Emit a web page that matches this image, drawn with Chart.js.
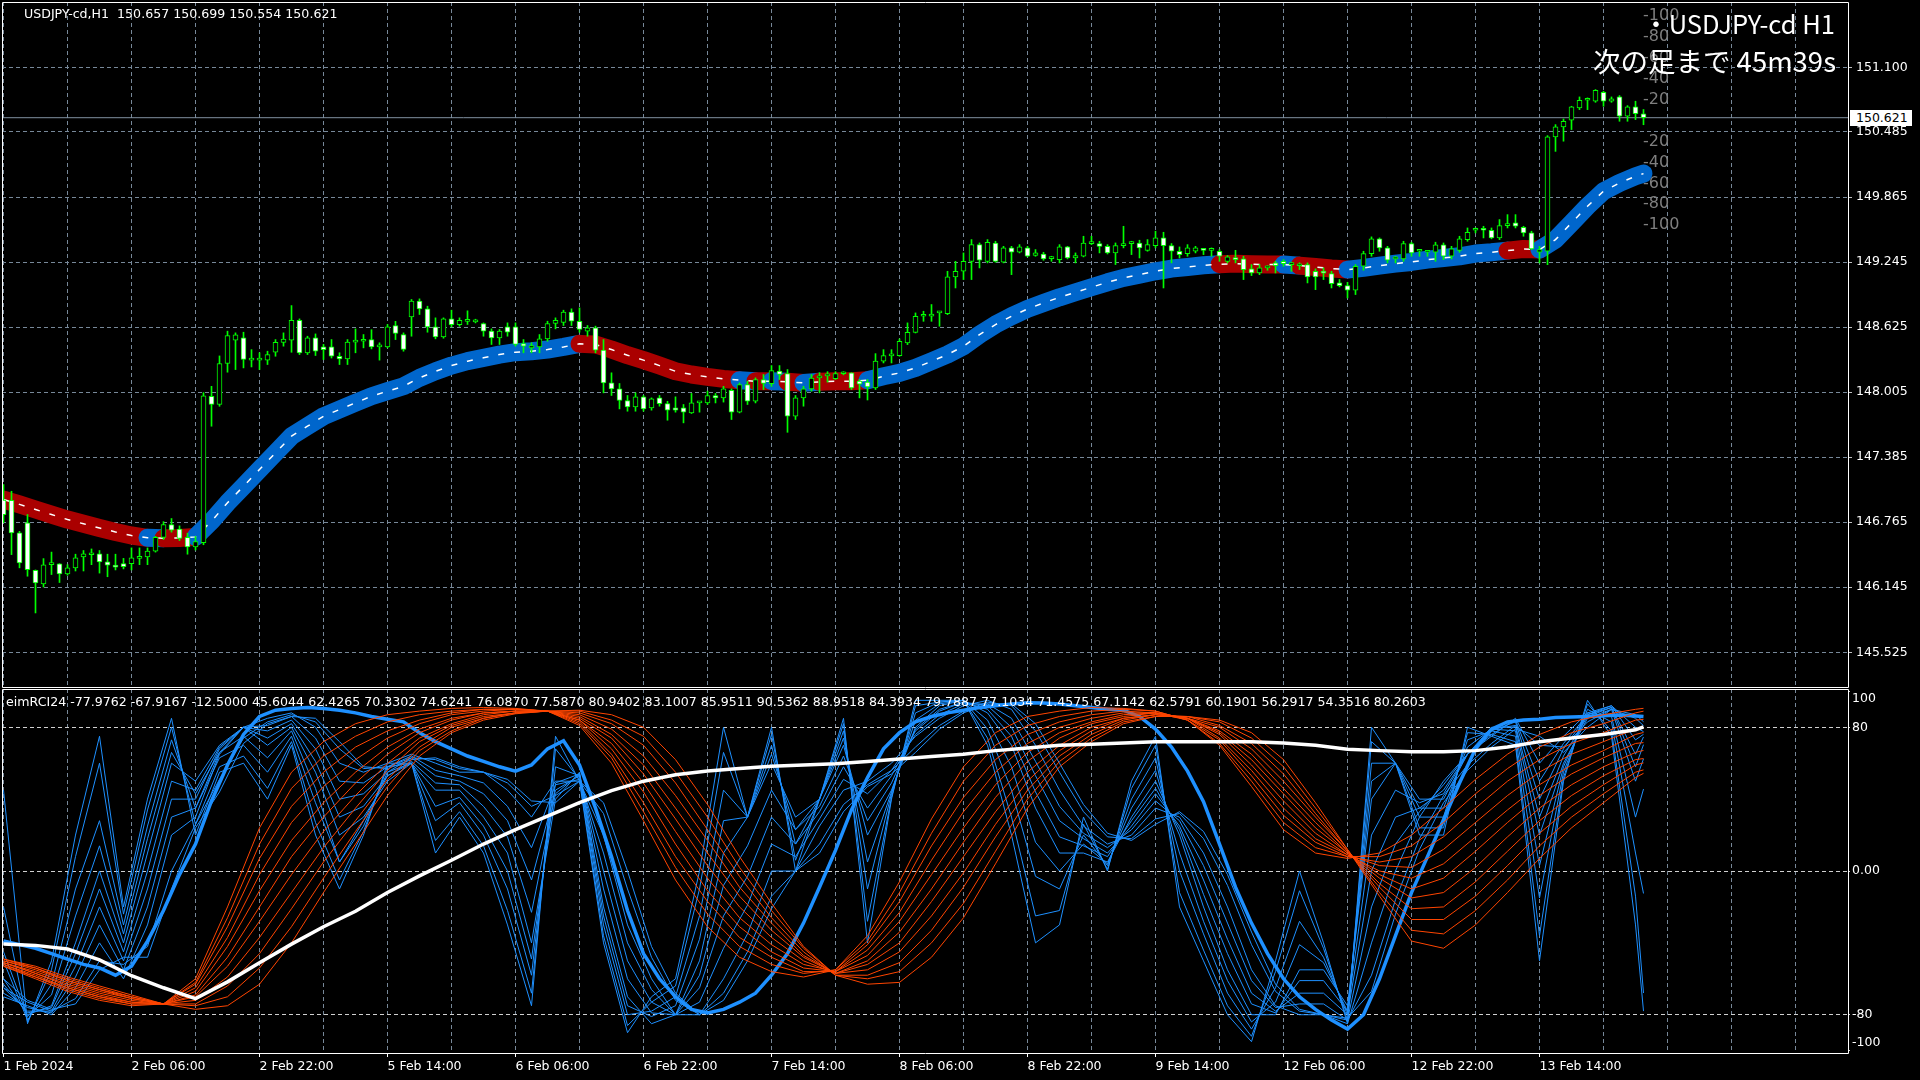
<!DOCTYPE html>
<html lang="ja">
<head>
<meta charset="utf-8">
<title>USDJPY-cd H1 eimRCI24</title>
<script src="https://cdn.jsdelivr.net/npm/chart.js@4.4.1/dist/chart.umd.min.js"></script>
<style>
html,body{margin:0;padding:0;background:#000;}
body{width:1920px;height:1080px;position:relative;overflow:hidden;}
canvas{position:absolute;left:0;}
#topChart{top:0;width:1920px;height:688px;}
#rciChart{top:688px;width:1920px;height:392px;}
.t{position:absolute;white-space:pre;line-height:1;font-family:"DejaVu Sans",sans-serif;color:#fff;}
.jp{font-family:"Noto Sans CJK JP","DejaVu Sans",sans-serif;}
.lv{color:#7f7f7f;font-size:16px;}
#pbox{position:absolute;left:1850px;top:110px;width:56px;height:16px;padding-left:6px;background:#fff;color:#000;font:12.5px "DejaVu Sans",sans-serif;line-height:16px;}
</style>
</head>
<body>
<canvas id="topChart" width="1920" height="688"></canvas>
<canvas id="rciChart" width="1920" height="392"></canvas>
<div id="overlay"></div>
<script>
// ---------------- data ----------------
const symbolTitle = 'USDJPY-cd,H1';
const priceTicks = [151.100,150.485,149.865,149.245,148.625,148.005,147.385,146.765,146.145,145.525];
const timeLabels = ['1 Feb 2024','2 Feb 06:00','2 Feb 22:00','5 Feb 14:00','6 Feb 06:00','6 Feb 22:00','7 Feb 14:00','8 Feb 06:00','8 Feb 22:00','9 Feb 14:00','12 Feb 06:00','12 Feb 22:00','13 Feb 14:00'];
const rciTicks = [100,80,0,-80,-100];
const currentPrice = 150.621;

const openP = [
146.976,146.974,146.663,146.759,146.307,146.176,146.360,146.368,146.272,146.330,
146.434,146.455,146.463,146.387,146.355,146.370,146.370,146.420,146.435,146.490,
146.620,146.743,146.700,146.620,146.530,146.570,147.966,147.887,148.278,148.500,
148.522,148.310,148.310,148.310,148.385,148.480,148.500,148.690,148.379,148.522,
148.436,148.436,148.347,148.322,148.481,148.490,148.506,148.436,148.436,148.640,
148.554,148.722,148.872,148.799,148.627,148.532,148.703,148.649,148.680,148.675,
148.659,148.586,148.522,148.627,148.627,148.468,148.427,148.436,148.513,148.659,
148.670,148.767,148.681,148.585,148.617,148.405,148.093,148.036,147.925,147.864,
147.960,147.855,147.950,147.896,147.855,147.855,147.807,147.902,147.902,147.973,
147.950,148.023,147.814,148.077,147.918,148.125,148.086,148.205,148.182,147.775,
147.950,148.036,148.141,148.160,148.134,148.180,148.188,148.110,148.100,148.045,
148.300,148.350,148.353,148.474,148.575,148.728,148.728,148.760,148.754,149.103,
149.157,149.252,149.411,149.252,149.427,149.243,149.380,149.338,149.380,149.307,
149.322,149.278,149.268,149.389,149.284,149.300,149.420,149.421,149.395,149.332,
149.402,149.421,149.427,149.357,149.402,149.475,149.402,149.348,149.325,149.348,
149.358,149.357,149.348,149.252,149.270,149.275,149.180,149.141,149.189,149.237,
149.252,149.221,149.210,149.221,149.157,149.141,149.135,149.046,149.021,148.976,
149.205,149.325,149.466,149.380,149.275,149.275,149.421,149.348,149.338,149.338,
149.408,149.300,149.357,149.459,149.548,149.550,149.548,149.475,149.592,149.618,
149.576,149.523,149.338,149.348,150.438,150.533,150.597,150.714,150.787,150.778,
150.864,150.778,150.819,150.635,150.724,150.657];
const highP = [
147.124,147.060,146.678,146.838,146.310,146.418,146.480,146.370,146.360,146.460,
146.495,146.510,146.495,146.460,146.460,146.420,146.520,146.520,146.520,146.630,
146.770,146.800,146.730,146.660,146.630,148.000,148.060,148.350,148.586,148.570,
148.576,148.410,148.380,148.395,148.506,148.570,148.830,148.703,148.538,148.560,
148.460,148.506,148.380,148.506,148.608,148.554,148.600,148.475,148.650,148.680,
148.570,148.888,148.894,148.824,148.713,148.713,148.786,148.713,148.780,148.700,
148.665,148.608,148.602,148.665,148.665,148.506,148.475,148.554,148.681,148.713,
148.786,148.799,148.808,148.640,148.634,148.506,148.189,148.087,147.973,147.998,
147.973,147.950,147.973,147.918,147.960,147.887,147.992,147.910,148.014,147.992,
148.060,148.036,148.093,148.109,148.141,148.173,148.258,148.258,148.220,147.973,
148.060,148.173,148.190,148.200,148.200,148.200,148.190,148.125,148.125,148.372,
148.410,148.410,148.512,148.665,148.760,148.776,148.840,148.776,149.157,149.252,
149.332,149.459,149.427,149.459,149.443,149.395,149.395,149.411,149.395,149.364,
149.338,149.300,149.411,149.395,149.332,149.491,149.491,149.443,149.411,149.427,
149.586,149.443,149.453,149.459,149.539,149.529,149.421,149.389,149.411,149.395,
149.370,149.380,149.364,149.307,149.357,149.300,149.221,149.221,149.210,149.252,
149.268,149.243,149.237,149.237,149.180,149.189,149.157,149.078,149.052,149.221,
149.348,149.485,149.475,149.395,149.300,149.443,149.434,149.364,149.357,149.434,
149.427,149.395,149.491,149.570,149.570,149.586,149.570,149.650,149.697,149.697,
149.586,149.539,149.395,150.450,150.555,150.609,150.730,150.819,150.810,150.889,
150.873,150.819,150.832,150.736,150.778,150.699];
const lowP = [
146.760,146.456,146.330,146.250,145.900,146.147,146.266,146.190,146.260,146.300,
146.300,146.360,146.280,146.245,146.310,146.320,146.310,146.360,146.360,146.480,
146.600,146.670,146.590,146.460,146.500,146.550,147.680,147.870,148.195,148.220,
148.236,148.245,148.220,148.268,148.347,148.443,148.385,148.363,148.363,148.354,
148.316,148.330,148.268,148.268,148.380,148.427,148.417,148.310,148.427,148.506,
148.395,148.538,148.745,148.576,148.513,148.519,148.627,148.633,148.650,148.665,
148.538,148.459,148.459,148.538,148.443,148.380,148.380,148.380,148.490,148.608,
148.640,148.640,148.576,148.538,148.380,147.998,147.973,147.845,147.823,147.823,
147.823,147.833,147.871,147.737,147.814,147.712,147.801,147.814,147.887,147.902,
147.910,147.744,147.807,147.887,147.902,148.030,148.060,148.125,147.622,147.744,
147.871,148.014,147.998,148.100,148.125,148.170,148.030,147.950,147.930,148.030,
148.283,148.283,148.347,148.458,148.569,148.680,148.680,148.633,148.744,148.998,
149.078,149.078,149.189,149.237,149.243,149.237,149.125,149.332,149.294,149.300,
149.262,149.252,149.237,149.275,149.237,149.294,149.411,149.332,149.322,149.221,
149.380,149.316,149.284,149.348,149.380,148.998,149.237,149.284,149.300,149.332,
149.316,149.300,149.252,149.237,149.237,149.078,149.116,149.125,149.167,149.141,
149.205,149.157,149.173,149.046,148.982,149.078,148.998,149.008,148.903,148.935,
149.167,149.300,149.348,149.237,149.237,149.252,149.300,149.300,149.300,149.252,
149.268,149.275,149.338,149.443,149.523,149.475,149.466,149.459,149.570,149.570,
149.491,149.364,149.237,149.220,150.300,150.397,150.508,150.698,150.698,150.768,
150.730,150.768,150.587,150.587,150.603,150.554];
const closeP = [
146.837,146.663,146.377,146.313,146.186,146.358,146.365,146.272,146.330,146.425,
146.463,146.459,146.387,146.355,146.336,146.340,146.425,146.435,146.490,146.620,
146.743,146.690,146.610,146.530,146.580,147.970,147.887,148.278,148.544,148.550,
148.316,148.330,148.330,148.363,148.480,148.510,148.690,148.379,148.522,148.395,
148.410,148.347,148.322,148.481,148.500,148.506,148.436,148.440,148.627,148.564,
148.411,148.872,148.799,148.627,148.532,148.703,148.649,148.690,148.680,148.690,
148.586,148.522,148.586,148.576,148.459,148.443,148.449,148.513,148.659,148.690,
148.767,148.681,148.602,148.617,148.405,148.093,148.036,147.925,147.864,147.960,
147.845,147.940,147.896,147.833,147.833,147.814,147.902,147.905,147.973,147.950,
148.036,147.814,148.077,147.918,148.125,148.087,148.210,148.173,147.775,147.950,
148.036,148.140,148.160,148.170,148.182,148.190,148.045,148.080,148.055,148.300,
148.353,148.356,148.490,148.575,148.728,148.735,148.750,148.760,149.103,149.157,
149.252,149.411,149.262,149.434,149.252,149.380,149.338,149.389,149.300,149.332,
149.275,149.278,149.389,149.284,149.307,149.427,149.434,149.395,149.332,149.402,
149.421,149.434,149.380,149.411,149.475,149.402,149.348,149.316,149.380,149.380,
149.357,149.360,149.300,149.294,149.268,149.173,149.141,149.189,149.190,149.211,
149.230,149.221,149.210,149.103,149.103,149.140,149.040,149.021,148.976,149.205,
149.325,149.466,149.380,149.262,149.275,149.421,149.332,149.348,149.338,149.408,
149.300,149.370,149.466,149.529,149.548,149.548,149.475,149.592,149.611,149.586,
149.523,149.370,149.364,150.438,150.533,150.587,150.724,150.787,150.790,150.883,
150.778,150.800,150.635,150.724,150.660,150.621];

// moving average (read every 2 bars)
const maValues = [
146.981,146.935,146.886,146.838,146.790,146.750,146.710,146.672,146.638,146.616,
146.612,146.614,146.625,146.775,146.950,147.108,147.267,147.426,147.585,147.680,
147.775,147.839,147.903,147.966,148.014,148.061,148.141,148.204,148.258,148.300,
148.332,148.363,148.386,148.395,148.411,148.436,148.465,148.459,148.411,148.357,
148.310,148.258,148.204,148.173,148.150,148.131,148.119,148.109,148.109,148.103,
148.093,148.103,148.108,148.108,148.118,148.156,148.188,148.236,148.299,148.363,
148.442,148.553,148.649,148.728,148.798,148.855,148.909,148.957,149.005,149.052,
149.094,149.125,149.157,149.183,149.198,149.214,149.224,149.230,149.224,149.221,
149.221,149.211,149.198,149.183,149.173,149.189,149.211,149.230,149.246,149.268,
149.284,149.300,149.326,149.338,149.354,149.370,149.364,149.459,149.618,149.777,
149.920,149.999,150.063,150.088];
// bar ranges where the MA is coloured as falling (red)
const maDownRanges = [[0,18],[19.5,24],[72,92],[93.5,96.5],[97.5,99.5],[103,107.5],[153,158],[159,161],[162,168.5],[189,192.5]];

// ---- RCI lines: white (longest), blue thick, 11 orange, 11 thin blue ----
const rciWhite = [
-40.7,-41.4,-43.4,-49.5,-58.3,-65,-71,-61.7,-51,-40.7,
-31,-22.4,-12,-2.7,6,15,23,30.5,38,44.7,
50,53.6,55.6,57,58.3,59,59.7,61,62.4,63.7,
65,67,68.5,70,70.5,71.2,71.9,71.9,71.9,71.9,
71.2,70,67.8,67,66.4,66.4,67,69,72,74,
76,78.6,80.2603];
const rciBlue12 = [
-39,-41,-43,-46,-49,-52,-54,-58,-53,-39,
-22,-2,15,39,59,76,86,89.5,90.5,91,
90.5,89.5,88,86,84.5,83,77,72,68,64,
61,58,55.6,59,68,72.5,59,35,8,-22,
-46,-60,-70,-77,-79,-77,-73,-68,-58,-46,
-29,-9,11.5,34,52,68,77,83,86,88,
89.5,91,92,93,93.6,93.5,93,92,91,90,
89.5,86,79,69,55.6,38.6,15,-9,-29,-46,
-60,-70,-77,-83,-88,-80,-60,-36,-12,8,
28.5,49,68,79,83,84,84.5,85.4,85.7,86,
86.4,86.8,86.3,85.9511];
const rciOrange1 = [-53,-60,-67,-72,-75,-74,-60,-20,24,55, 72,82,87,89,90.5,91,90.5,89,81,60, 28,-5,-31,-48,-56,-59,-55,-36,-6,29, 58,77,86,89,91,90.5,89,84,70,47, 23,10,7,10,20,35,51,65,76,83, 87,90,90.5362];
const rciOrange2 = [-53,-59,-66,-71,-74,-74,-62,-26,15,46, 64,75,83,87,89,90,90,89,82,63, 33,2,-24,-42,-52,-57,-55,-39,-12,21, 50,70,81,86,89,90,89,84,71,50, 27,13,8,8,14,27,43,57,69,77, 82,88,88.9518];
const rciOrange3 = [-52,-59,-65,-70,-74,-74,-63,-31,7,36, 55,69,78,84,88,90,90,89,83,65, 38,8,-17,-37,-48,-56,-56,-41,-17,14, 41,62,76,83,87,89,88,84,73,53, 31,16,8,5,8,19,35,50,62,71, 77,84,84.3934];
const rciOrange4 = [-52,-58,-65,-70,-73,-74,-65,-37,-2,27, 47,62,74,82,87,89,90,89,84,68, 44,15,-11,-31,-45,-54,-56,-44,-23,6, 33,55,71,80,85,88,88,85,74,56, 35,18,9,3,2,12,27,42,55,65, 72,79,79.7887];
const rciOrange5 = [-51,-57,-64,-69,-73,-74,-67,-42,-11,17, 38,55,69,79,85,88,89,89,84,71, 49,22,-4,-26,-41,-52,-56,-47,-28,-2, 24,48,66,77,83,87,88,85,76,59, 39,21,9,0,-4,4,19,34,48,59, 67,76,77.1034];
const rciOrange6 = [-51,-57,-63,-68,-72,-74,-69,-48,-20,8, 30,49,65,77,84,88,89,89,85,74, 54,29,3,-20,-37,-50,-57,-50,-34,-10, 16,41,61,74,82,86,88,85,77,62, 43,24,10,-2,-10,-4,11,27,42,54, 63,71,71.4575];
const rciOrange7 = [-51,-56,-62,-67,-71,-74,-70,-53,-28,-2, 22,42,60,74,82,87,89,89,86,76, 59,35,10,-14,-33,-48,-57,-52,-40,-17, 8,33,55,70,80,85,87,85,78,65, 46,27,10,-4,-15,-12,2,19,35,48, 58,66,67.1142];
const rciOrange8 = [-50,-55,-61,-66,-71,-74,-72,-59,-37,-12, 13,35,56,72,81,86,88,89,87,79, 64,42,17,-9,-29,-47,-57,-55,-45,-25, -1,26,50,67,78,85,87,85,80,68, 50,30,11,-7,-21,-20,-6,11,28,42, 53,62,62.5791];
const rciOrange9 = [-50,-54,-61,-66,-70,-74,-74,-64,-46,-21, 5,28,51,69,80,85,88,89,88,82, 70,49,23,-3,-26,-45,-58,-58,-51,-33, -9,19,45,64,76,84,87,86,81,71, 54,32,11,-9,-27,-27,-14,3,21,36, 48,59,60.1901];
const rciOrange10 = [-49,-54,-60,-65,-70,-74,-75,-70,-54,-31, -4,22,47,67,78,85,88,89,89,84, 75,55,30,2,-22,-43,-58,-60,-56,-40, -18,11,40,61,74,83,86,86,83,74, 58,35,12,-12,-33,-35,-22,-5,14,30, 43,55,56.2917];
const rciOrange11 = [-49,-53,-59,-64,-69,-74,-77,-75,-63,-40, -12,15,42,64,77,84,87.5,89,89.5,87, 80,62,37,8,-18,-42,-58,-63,-62,-48, -26,4,35,58,72,82,86,86,84,77, 62,38,12,-14,-39,-43,-30,-12,7,24, 38,52,54.3516];
const rciBlue1 = [45,-85,-50,20,75,-20,40,85,20,55, 60,40,70,20,-10,20,60,60,10,30, 10,-30,-75,75,50,-40,-90,-70,-60,0, 80,30,80,0,40,85,-40,40,95,95, 95,70,20,-40,-30,30,0,50,75,-20, -50,-80,-95,-50,0,-40,-85,80,60,20, 20,80,75,70,-50,50,95,75,-30,-77.9762];
const rciBlue2 = [-20,-84,-55,8,60,-24,34,80,26,58, 64,46,72,27,-5,22,58,60,17,33, 14,-22,-68,68,51,-36,-86,-73,-64,-10, 66,30,76,6,40,82,-28,41,92,94, 95,74,30,-25,-22,26,1,46,70,-12, -44,-75,-92,-56,-11,-43,-83,72,60,24, 24,77,76,72,-36,52,93,78,-14,-67.9167];
const rciBlue3 = [-50,-83,-63,-10,28,-30,25,73,35,63, 70,55,75,38,5,25,55,60,28,38, 20,-10,-58,58,53,-30,-80,-78,-70,-25, 45,30,70,15,40,78,-10,43,88,94, 95,79,45,-3,-10,20,3,40,63,0, -35,-68,-88,-65,-28,-48,-80,60,60,30, 30,73,78,75,-15,55,90,83,10,-12.5];
const rciBlue4 = [-45,-81,-69,-25,14,-35,18,66,43,66, 75,63,78,46,5,28,53,60,36,41, 25,0,-49,49,54,-25,-75,-81,-75,-38, 28,30,65,23,40,74,5,44,84,93, 95,84,58,16,0,15,4,35,56,10, -28,-61,-84,-73,-41,-51,-78,50,60,35, 35,69,79,78,3,58,88,86,30,45.6044];
const rciBlue5 = [-60,-80,-75,-40,0,-40,10,60,50,70, 80,70,80,55,20,30,50,60,45,45, 30,10,-40,40,55,-20,-70,-85,-80,-50, 10,30,60,30,40,70,20,45,80,92, 95,88,70,35,10,10,5,30,50,20, -20,-55,-80,-80,-55,-55,-75,40,60,40, 40,65,80,80,20,60,85,90,50,62.4265];
const rciBlue6 = [-63,-79,-76,-46,-10,-45,0,50,45,69, 80,74,82,61,30,36,53,61,49,48, 36,19,-23,43,54,-10,-60,-79,-80,-58, -8,14,45,23,36,64,28,49,79,90, 94,90,75,44,19,14,8,28,46,23, -13,-46,-74,-79,-61,-61,-78,20,45,38, 43,65,79,81,30,64,86,91,58,70.3302];
const rciBlue7 = [-65,-78,-78,-53,-20,-50,-10,40,40,68, 80,78,84,68,40,43,55,63,53,50, 43,28,-5,45,53,0,-50,-73,-80,-65, -25,-3,30,15,33,58,35,53,78,89, 94,92,80,53,28,18,10,25,43,25, -5,-38,-68,-78,-68,-68,-80,0,30,35, 45,65,78,83,40,68,87,91,65,74.6241];
const rciBlue8 = [-68,-76,-79,-59,-30,-55,-20,30,35,66, 80,81,86,74,50,49,58,64,56,53, 49,36,13,48,51,10,-40,-66,-80,-73, -43,-19,15,8,29,51,43,56,76,87, 93,93,85,61,36,21,13,23,39,28, 3,-29,-61,-76,-74,-74,-83,-20,15,33, 48,65,76,84,50,71,87,92,73,76.087];
const rciBlue9 = [-70,-75,-80,-65,-40,-60,-30,20,30,65, 80,85,88,80,60,55,60,65,60,55, 55,45,30,50,50,20,-30,-60,-80,-80, -60,-35,0,0,25,45,50,60,75,85, 92,95,90,70,45,25,15,20,35,30, 10,-20,-55,-75,-80,-80,-85,-40,0,30, 50,65,75,85,60,75,88,92,80,77.587];
const rciBlue10 = [-65,-73,-78,-71,-50,-52,-42,0,26,51, 74,83,87,83,68,57,58,63,62,57, 55,49,36,42,50,32,-10,-48,-72,-80, -68,-45,-14,0,15,37,48,56,69,81, 89,94,92,78,55,33,19,18,29,32, 18,-8,-41,-67,-78,-80,-83,-58,-16,18, 42,59,71,81,70,69,83,90,85,80.9402];
const rciBlue11 = [-60,-72,-77,-74,-55,-48,-48,-10,24,44, 71,82,86,85,72,58,57,62,63,58, 55,51,39,38,50,38,0,-42,-68,-80, -72,-50,-21,0,10,33,47,54,66,79, 88,93,93,82,60,37,21,17,26,33, 22,-2,-34,-63,-77,-80,-82,-67,-24,12, 38,56,69,79,75,66,80,90,87,83.1007];
const rciLabel = 'eimRCI24 -77.9762 -67.9167 -12.5000 45.6044 62.4265 70.3302 74.6241 76.0870 77.5870 80.9402 83.1007 85.9511 90.5362 88.9518 84.3934 79.7887 77.1034 71.4575 67.1142 62.5791 60.1901 56.2917 54.3516 80.2603';
const levelMarks = ['-100','-80','-60','-40','-20',null,'-20','-40','-60','-80','-100'];

// ---------------- helpers ----------------
const N = closeP.length;
const barIdx = Array.from({length: N}, (_, i) => i);
const lastBar = N - 1;
function sampleBars(step) { const a = []; for (let b = 0; b < lastBar; b += step) a.push(b); a.push(lastBar); return a; }
const bars2 = sampleBars(2), bars3 = sampleBars(3), bars4 = sampleBars(4);
const pts = (xs, ys) => xs.map((x, k) => ({x, y: ys[k]}));

const GRID = '#778899';
const MA_RED = '#aa0000', MA_BLUE = '#0066cc';
const BLUE = '#1e90ff', ORANGE = '#ff4500';
const X_MIN = -0.1875, X_MAX = 230.5625;
const isDown = x => maDownRanges.some(([a, b]) => x >= a && x < b);

Chart.defaults.font.family = '"DejaVu Sans", sans-serif';
Chart.defaults.font.size = 12.5;
Chart.defaults.color = '#ffffff';

const framePlugin = {
  id: 'frame',
  afterDraw(chart) {
    const {ctx, chartArea: a} = chart;
    ctx.save();
    ctx.strokeStyle = '#ffffff';
    ctx.lineWidth = 1;
    ctx.beginPath();
    ctx.rect(a.left + 0.5, a.top + 0.5, a.right - a.left, a.bottom - a.top);
    ctx.stroke();
    ctx.restore();
  }
};
const zeroPad = s => { s.paddingLeft = 0; s.paddingRight = 0; s.paddingTop = 0; s.paddingBottom = 0; };
const gridTicks = s => { const t = []; for (let v = 0; v <= X_MAX; v += 8) t.push({value: v}); s.ticks = t; };

// ---------------- price chart ----------------
new Chart(document.getElementById('topChart'), {
  type: 'bar',
  data: {
    datasets: [
      {type: 'line', label: 'Bid', data: [{x: X_MIN, y: currentPrice}, {x: X_MAX, y: currentPrice}],
       borderColor: '#8090a0', borderWidth: 1, pointRadius: 0, order: 5, clip: 0},
      {type: 'line', label: 'MA', data: pts(bars2, maValues), borderWidth: 18,
       borderCapStyle: 'round', borderJoinStyle: 'round', borderColor: MA_BLUE,
       segment: {borderColor: c => isDown((c.p0.parsed.x + c.p1.parsed.x) / 2) ? MA_RED : MA_BLUE},
       pointRadius: 0, order: 4, clip: 0},
      {type: 'line', label: 'MA centre', data: pts(bars2, maValues), borderColor: '#ffffff',
       borderWidth: 1.5, borderDash: [6, 10], pointRadius: 0, order: 3, clip: 0},
      {type: 'bar', label: 'Range', data: barIdx.map(i => ({x: i, y: [lowP[i], highP[i]]})),
       backgroundColor: '#00ff00', borderWidth: 0, barThickness: 1, grouped: false, order: 2, clip: 0},
      {type: 'bar', label: 'Body', data: barIdx.map(i => ({x: i, y: [openP[i], closeP[i]]})),
       backgroundColor: barIdx.map(i => closeP[i] < openP[i] ? '#ffffff' : '#000000'),
       borderColor: '#00ff00', borderWidth: 1, borderSkipped: false, barThickness: 5,
       minBarLength: 2, grouped: false, order: 1, clip: 0}
    ]
  },
  options: {
    responsive: false, animation: false, devicePixelRatio: 1,
    layout: {padding: {left: 2, top: 2, right: 0, bottom: 1}, autoPadding: false},
    plugins: {legend: {display: false}, tooltip: {enabled: false}},
    scales: {
      x: {type: 'linear', min: X_MIN, max: X_MAX, offset: false, bounds: 'data',
          afterBuildTicks: gridTicks,
          ticks: {display: false},
          grid: {color: GRID, offset: false, drawTicks: false, lineWidth: 1},
          border: {display: false, dash: [4, 3]},
          afterFit: s => { s.height = 0; zeroPad(s); }},
      y: {type: 'linear', position: 'right', min: 145.194, max: 151.724, bounds: 'data',
          afterBuildTicks: s => { s.ticks = priceTicks.map(v => ({value: v})); },
          ticks: {color: '#ffffff', padding: 4, autoSkip: false, callback: v => Number(v).toFixed(3)},
          grid: {color: GRID, lineWidth: 1, drawTicks: true, tickLength: 4, tickColor: '#c0c0c0', tickBorderDash: []},
          border: {display: false, dash: [4, 3]},
          afterFit: s => { s.width = 72; zeroPad(s); }}
    }
  },
  plugins: [framePlugin]
});

// ---------------- RCI chart ----------------
const line = (label, xs, ys, color, width, order) => ({label, data: pts(xs, ys), borderColor: color,
  borderWidth: width, pointRadius: 0, order, clip: 0, tension: 0});
const thinBlue = [rciBlue1, rciBlue2, rciBlue3, rciBlue4, rciBlue5, rciBlue6, rciBlue7, rciBlue8, rciBlue9, rciBlue10, rciBlue11];
const orangeSet = [rciOrange1, rciOrange2, rciOrange3, rciOrange4, rciOrange5, rciOrange6, rciOrange7, rciOrange8, rciOrange9, rciOrange10, rciOrange11];
const rciDatasets = [];
thinBlue.forEach((d, k) => rciDatasets.push(line('RCI blue ' + (k + 1), bars3, d, BLUE, 1, 6)));
rciDatasets.push(line('RCI blue 12', bars2, rciBlue12, BLUE, 3.5, 5));
orangeSet.forEach((d, k) => rciDatasets.push(line('RCI orange ' + (k + 1), bars4, d, ORANGE, 1, 3)));
rciDatasets.push(line('RCI white', bars4, rciWhite, '#ffffff', 3.5, 1));

new Chart(document.getElementById('rciChart'), {
  type: 'line',
  data: {datasets: rciDatasets},
  options: {
    responsive: false, animation: false, devicePixelRatio: 1,
    layout: {padding: {left: 2, top: 1, right: 0, bottom: 0}, autoPadding: false},
    plugins: {legend: {display: false}, tooltip: {enabled: false}},
    scales: {
      x: {type: 'linear', min: X_MIN, max: X_MAX, offset: false, bounds: 'data',
          afterBuildTicks: gridTicks,
          ticks: {color: '#ffffff', align: 'start', maxRotation: 0, minRotation: 0, autoSkip: false, padding: 2,
                  callback: v => (v % 16 === 0 && timeLabels[v / 16]) ? timeLabels[v / 16] : ''},
          grid: {color: GRID, offset: false, lineWidth: 1, drawTicks: true, tickLength: 4, tickBorderDash: [],
                 tickColor: c => (c.tick && c.tick.value % 16 === 0 && timeLabels[c.tick.value / 16]) ? '#ffffff' : 'rgba(0,0,0,0)'},
          border: {display: false, dash: [4, 3]},
          afterFit: s => { s.height = 27; zeroPad(s); }},
      y: {type: 'linear', position: 'right', min: -101.3, max: 101.3, bounds: 'data',
          afterBuildTicks: s => { s.ticks = rciTicks.map(v => ({value: v})); },
          ticks: {color: '#ffffff', padding: 2, autoSkip: false,
                  callback: v => v === 100 ? ['', '100'] : v === -100 ? ['-100', ''] : v === 0 ? '0.00' : String(v)},
          grid: {color: c => (c.tick && Math.abs(c.tick.value) === 100) ? 'rgba(0,0,0,0)' : '#d0d0d0',
                 lineWidth: 1, drawTicks: true, tickLength: 2, tickColor: '#d0d0d0', tickBorderDash: []},
          border: {display: false, dash: [4, 3]},
          afterFit: s => { s.width = 72; zeroPad(s); }}
    }
  },
  plugins: [framePlugin]
});

// ---------------- text overlays ----------------
const ov = document.getElementById('overlay');
function addText(txt, cls, style) {
  const d = document.createElement('div');
  d.className = 't ' + cls;
  d.textContent = txt;
  Object.assign(d.style, style);
  ov.appendChild(d);
  return d;
}
addText(symbolTitle + '  ' + [openP[lastBar], highP[lastBar], lowP[lastBar], closeP[lastBar]].map(v => v.toFixed(3)).join(' '),
  '', {left: '24px', top: '8px', fontSize: '12.6px'});
levelMarks.forEach((m, k) => {
  if (m !== null) addText(m, 'lv', {left: '1643px', top: (15 + 20.9 * k - 7.7).toFixed(1) + 'px'});
});
addText('・USDJPY-cd H1', 'jp', {right: '85px', top: '9.5px', fontSize: '25.5px'});
addText('次の足まで 45m39s', 'jp', {right: '84px', top: '46.5px', fontSize: '27.5px'});
addText(rciLabel, '', {left: '6px', top: '696px', fontSize: '12.6px'});
const pb = document.createElement('div');
pb.id = 'pbox';
pb.textContent = currentPrice.toFixed(3);
ov.appendChild(pb);
</script>
</body>
</html>
